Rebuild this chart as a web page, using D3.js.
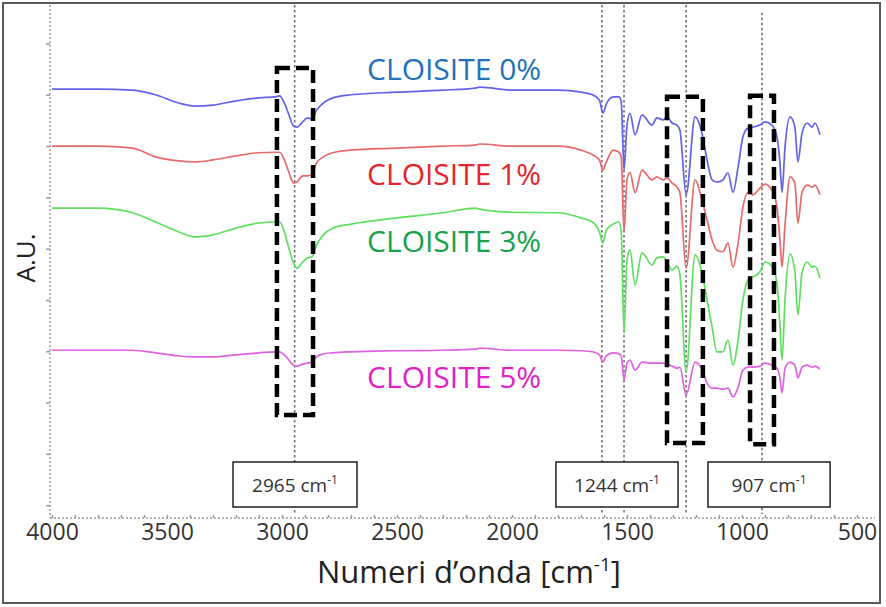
<!DOCTYPE html>
<html>
<head>
<meta charset="utf-8">
<script src="https://cdn.jsdelivr.net/npm/d3@7"></script>
<style>
  body { margin: 0; background: #fff; }
  text { font-family: "Open Sans", "Noto Sans", sans-serif; }
</style>
</head>
<body>
<svg id="chart" width="886" height="607"></svg>
<script>
// wavenumbers (cm-1) shared by all four spectra
const wavenumbers = [
  4000, 3800, 3650, 3550, 3450, 3380, 3300, 3200, 3100, 3030,
  3010, 2990, 2970, 2950, 2935, 2910, 2890, 2870, 2850, 2820,
  2780, 2700, 2500, 2300, 2160, 2140, 2000, 1800, 1700, 1650,
  1620, 1605, 1590, 1560, 1535, 1525, 1513, 1500, 1487, 1465,
  1435, 1391, 1370, 1343, 1326, 1304, 1283, 1270, 1243, 1204,
  1174, 1152, 1130, 1109, 1083, 1061, 1039, 1017, 996, 974,
  952, 922, 900, 870, 848, 835, 826, 813, 791, 770,
  757, 739, 717, 696, 683, 661,
];

// A.U.
const cloisite0 = [
  83.6, 83.6, 83.4, 82.5, 80.9, 80.3, 80.5, 81.3, 81.9, 82.1,
  82.3, 80.9, 78.6, 76.4, 76.2, 77.2, 78.0, 77.8, 79.5, 80.9,
  81.9, 82.5, 83.0, 83.4, 83.8, 84.0, 83.4, 83.4, 83.0, 82.5,
  81.5, 78.9, 80.7, 82.1, 82.1, 81.1, 67.8, 76.6, 78.9, 74.7,
  78.6, 76.6, 78.0, 77.6, 78.2, 77.0, 76.6, 75.6, 63.0, 78.2,
  75.0, 69.8, 65.9, 65.5, 65.9, 67.3, 63.5, 68.4, 74.3, 76.0,
  76.2, 76.6, 77.2, 76.6, 74.3, 69.2, 63.5, 72.3, 78.2, 76.2,
  69.4, 75.0, 77.0, 76.2, 77.0, 74.7,
];

const cloisite1 = [
  72.5, 72.5, 72.1, 70.4, 69.6, 69.4, 69.8, 70.6, 71.2, 71.3,
  71.3, 69.8, 67.4, 65.3, 65.5, 66.7, 66.7, 66.9, 69.2, 70.4,
  71.2, 71.7, 72.1, 72.5, 72.7, 72.9, 72.5, 72.5, 71.7, 70.8,
  69.8, 67.8, 69.4, 71.7, 71.3, 70.2, 55.8, 65.9, 67.4, 63.4,
  67.8, 65.9, 66.5, 65.9, 66.3, 65.3, 64.5, 63.4, 48.7, 65.9,
  62.0, 58.1, 54.2, 52.2, 51.9, 53.6, 48.9, 53.6, 60.6, 63.5,
  63.0, 64.3, 65.1, 63.9, 60.6, 54.2, 48.9, 57.1, 66.5, 65.3,
  57.5, 63.5, 64.9, 64.5, 64.9, 63.0,
];

const cloisite3 = [
  60.4, 60.4, 59.5, 57.7, 55.8, 54.8, 55.2, 56.5, 57.5, 57.7,
  57.7, 55.8, 52.6, 49.7, 48.7, 49.9, 50.7, 50.9, 53.2, 55.2,
  56.5, 57.3, 58.5, 59.5, 60.4, 60.2, 59.6, 59.5, 58.5, 57.7,
  55.8, 53.6, 56.1, 57.3, 57.7, 55.8, 36.1, 50.3, 52.2, 45.4,
  51.7, 49.3, 50.7, 50.9, 49.9, 48.3, 49.1, 47.4, 28.5, 51.3,
  47.8, 42.5, 37.2, 32.4, 32.4, 34.7, 29.8, 34.7, 42.5, 46.4,
  47.0, 48.0, 49.9, 49.1, 45.8, 37.6, 30.8, 42.5, 51.5, 48.0,
  39.6, 47.8, 49.9, 48.9, 49.1, 46.8,
];

const cloisite5 = [
  32.7, 32.7, 32.7, 32.2, 31.6, 31.4, 31.4, 31.8, 32.2, 32.4,
  32.4, 31.8, 30.8, 29.8, 29.6, 30.0, 30.2, 30.4, 31.4, 32.0,
  32.2, 32.4, 32.6, 32.7, 32.9, 33.1, 32.7, 32.7, 32.6, 32.4,
  31.8, 30.4, 31.6, 32.2, 32.0, 31.6, 26.9, 30.2, 30.8, 28.8,
  30.4, 30.2, 30.2, 30.2, 30.0, 29.6, 29.2, 29.4, 24.0, 30.4,
  29.0, 26.3, 25.3, 25.3, 25.1, 25.3, 23.6, 25.5, 28.8, 29.4,
  29.4, 29.6, 30.2, 29.8, 29.2, 27.3, 24.4, 29.2, 30.4, 29.8,
  27.3, 29.4, 29.8, 29.4, 29.6, 29.0,
];

const seriesNames = ["CLOISITE 0%", "CLOISITE 1%", "CLOISITE 3%", "CLOISITE 5%"];
const seriesValues = [cloisite0, cloisite1, cloisite3, cloisite5];

const xTickValues = [4000, 3500, 3000, 2500, 2000, 1500, 1000, 500];
const yTickValues = [2.5, 12.5, 22.5, 32.5, 42.5, 52.5, 62.5, 72.5, 82.5, 92.5];

// dotted guide lines at the marked bands
const guideWavenumbers = [2945, 1609, 1513, 1243, 913];

// dashed highlight boxes: wavenumber span and A.U. span
const highlightFrom = [3022, 1326, 965];
const highlightTo = [2865, 1170, 861];
const highlightTop = [87.7, 82.1, 82.3];
const highlightBottom = [20.1, 14.6, 14.4];

// band labels
const bandLabels = ["2965", "1244", "907"];
const bandLabelFrom = [3213, 1809, 1148];
const bandLabelTo = [2674, 1278, 617];

(() => {
  const LINE_COLORS = ["#6262ea", "#e86a6a", "#5ee05e", "#e062e0"];
  const LABEL_COLORS = ["#2371b9", "#e5252b", "#17a24c", "#e022c6"];
  const GUIDE_COLOR = "#707070";
  const AXIS_COLOR = "#999999";

  const svg = d3.select("#chart");
  const x = d3.scaleLinear().domain([4000, 500]).range([52, 857]);
  const y = d3.scaleLinear().domain([0, 100]).range([518, 5]);

  svg.append("rect")
    .attr("width", 886).attr("height", 607).attr("fill", "#fff");

  svg.append("rect")
    .attr("x", 3).attr("y", 3).attr("width", 877).attr("height", 600)
    .attr("fill", "none").attr("stroke", "#5a5a5a").attr("stroke-width", 2);

  // y axis: dotted line with small ticks, labels unreadable in the source
  const yAxis = svg.append("g")
    .attr("transform", "translate(50,0)")
    .call(d3.axisLeft(y).tickValues(yTickValues).tickSize(4).tickFormat(""));
  yAxis.select(".domain").remove();
  yAxis.selectAll(".tick line").attr("stroke", AXIS_COLOR).attr("stroke-width", 1.5);
  yAxis.append("line")
    .attr("x1", 0).attr("x2", 0).attr("y1", y(100)).attr("y2", y(0))
    .attr("stroke", AXIS_COLOR).attr("stroke-width", 1.4)
    .attr("stroke-dasharray", "2,2");

  // x axis: dotted line, minor ticks every 100, labels every 500
  const xMinor = svg.append("g")
    .attr("transform", `translate(0,${y(0)})`)
    .call(d3.axisBottom(x).tickValues(d3.range(4000, 499, -100)).tickSize(-3).tickFormat(""));
  xMinor.select(".domain").remove();
  xMinor.selectAll(".tick line").attr("stroke", AXIS_COLOR).attr("stroke-width", 1.5);

  svg.append("line")
    .attr("x1", 50).attr("x2", 875).attr("y1", y(0)).attr("y2", y(0))
    .attr("stroke", AXIS_COLOR).attr("stroke-width", 1.4)
    .attr("stroke-dasharray", "2,2");

  const xAxis = svg.append("g")
    .attr("transform", `translate(0,${y(0)})`)
    .call(d3.axisBottom(x).tickValues(xTickValues).tickSize(0).tickPadding(6).tickFormat(d3.format("d")));
  xAxis.select(".domain").remove();
  xAxis.selectAll(".tick text")
    .attr("fill", "#333").attr("font-size", 23)
    .attr("font-family", "'Open Sans', sans-serif");

  // guide lines
  svg.append("g")
    .selectAll("line")
    .data(guideWavenumbers)
    .join("line")
    .attr("x1", (d) => x(d)).attr("x2", (d) => x(d))
    .attr("y1", (d, i) => y(i === guideWavenumbers.length - 1 ? 98.5 : 100))
    .attr("y2", y(0.8))
    .attr("stroke", GUIDE_COLOR).attr("stroke-width", 1.6)
    .attr("stroke-dasharray", "2.5,2.5");

  // spectra
  const line = d3.line()
    .x((d, i) => x(wavenumbers[i]))
    .y((d) => y(d))
    .curve(d3.curveMonotoneX);

  svg.append("g")
    .selectAll("path")
    .data(seriesValues)
    .join("path")
    .attr("d", (d) => line(d))
    .attr("fill", "none")
    .attr("stroke", (d, i) => LINE_COLORS[i])
    .attr("stroke-width", 1.7)
    .attr("stroke-linejoin", "round");

  // dashed highlight boxes
  svg.append("g")
    .selectAll("rect")
    .data(highlightFrom)
    .join("rect")
    .attr("x", (d) => x(d))
    .attr("y", (d, i) => y(highlightTop[i]))
    .attr("width", (d, i) => x(highlightTo[i]) - x(d))
    .attr("height", (d, i) => y(highlightBottom[i]) - y(highlightTop[i]))
    .attr("fill", "none")
    .attr("stroke", "#000")
    .attr("stroke-width", 4.5)
    .attr("stroke-dasharray", "13,6");

  // band label boxes
  const bands = svg.append("g")
    .selectAll("g")
    .data(bandLabels)
    .join("g");

  bands.append("rect")
    .attr("x", (d, i) => x(bandLabelFrom[i]))
    .attr("y", y(0) - 56)
    .attr("width", (d, i) => x(bandLabelTo[i]) - x(bandLabelFrom[i]))
    .attr("height", 45)
    .attr("fill", "#fff")
    .attr("stroke", "#111")
    .attr("stroke-width", 1.4);

  const bandText = bands.append("text")
    .attr("x", (d, i) => (x(bandLabelFrom[i]) + x(bandLabelTo[i])) / 2)
    .attr("y", y(0) - 26)
    .attr("text-anchor", "middle")
    .attr("font-size", 19)
    .attr("fill", "#333");
  bandText.append("tspan").text((d) => `${d} cm`);
  bandText.append("tspan")
    .attr("dy", -8).attr("font-size", 12)
    .text("-1");

  // series labels
  const labelAt = [85.4, 64.9, 51.9, 25.3];
  svg.append("g")
    .selectAll("text")
    .data(seriesNames)
    .join("text")
    .attr("x", x(2630))
    .attr("y", (d, i) => y(labelAt[i]))
    .attr("font-size", 30)
    .attr("fill", (d, i) => LABEL_COLORS[i])
    .text((d) => d);

  // axis titles
  const xTitle = svg.append("text")
    .attr("x", 469).attr("y", 583)
    .attr("text-anchor", "middle")
    .attr("font-size", 31)
    .attr("fill", "#222");
  xTitle.append("tspan").text("Numeri d’onda [cm");
  xTitle.append("tspan").attr("dy", -12).attr("font-size", 19).text("-1");
  xTitle.append("tspan").attr("dy", 12).text("]");

  svg.append("text")
    .attr("transform", "translate(35,258) rotate(-90)")
    .attr("text-anchor", "middle")
    .attr("font-size", 26)
    .attr("fill", "#222")
    .text("A.U.");
})();
</script>
</body>
</html>
